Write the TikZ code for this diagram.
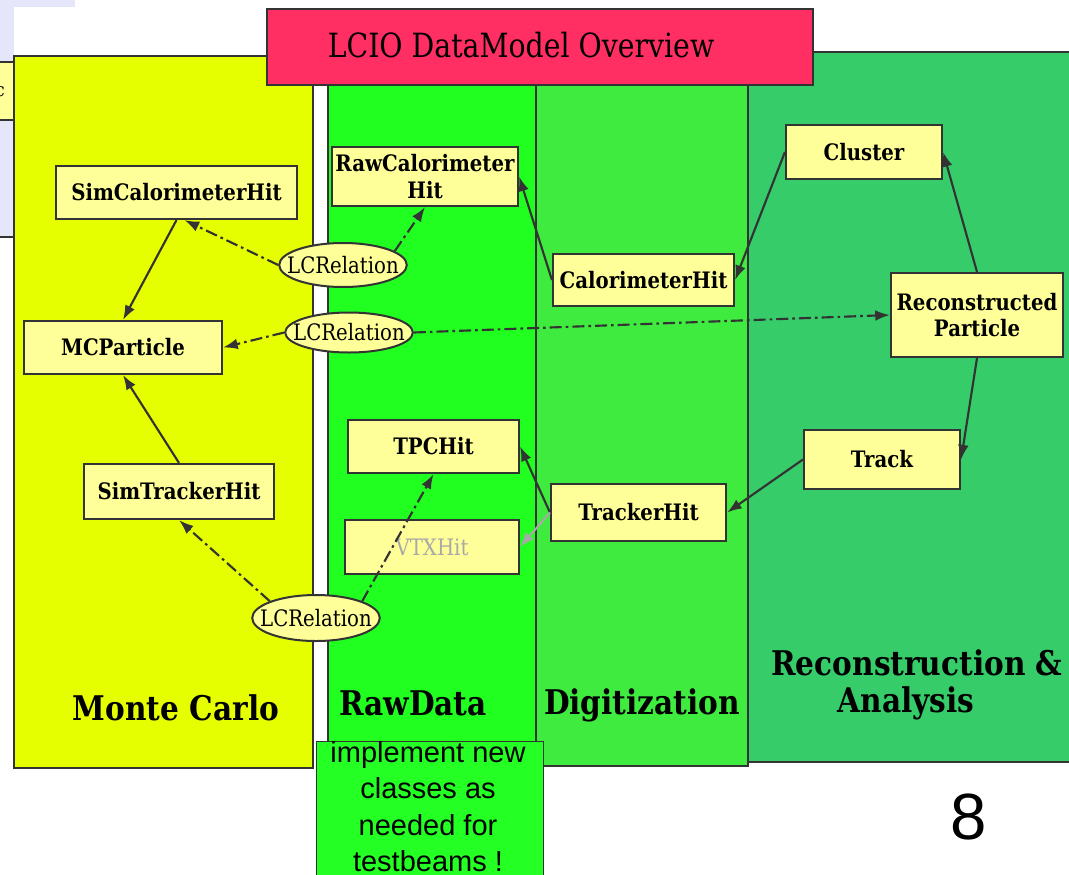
\documentclass[tikz,border=0pt]{standalone}
\usepackage{fontspec}
\newfontfamily\dvserif{DejaVu Serif}[FakeStretch=0.87]
\newfontfamily\dvtitle{DejaVu Serif}[FakeStretch=0.85]
\newfontfamily\lsans{Liberation Sans}
\usetikzlibrary{arrows.meta,shapes.geometric}
\definecolor{bordc}{HTML}{333333}
\definecolor{mcyellow}{HTML}{E5FF00}
\definecolor{rawgreen}{HTML}{20FF20}
\definecolor{digigreen}{HTML}{3EEB3E}
\definecolor{recogreen}{HTML}{36CC6A}
\definecolor{titlered}{HTML}{FF2E63}
\definecolor{nodefill}{HTML}{FFFF99}
\definecolor{lavend}{HTML}{E6E6FA}
\definecolor{notegreen}{HTML}{24FF24}
\definecolor{vtxgray}{HTML}{A8A8A8}
\begin{document}
\begin{tikzpicture}[x=0.75pt,y=-0.75pt,
  panel/.style={draw=bordc, line width=1.5pt},
  cls/.style={draw=bordc, fill=nodefill, line width=1.6pt, inner sep=0pt, align=center,
    font=\dvserif\bfseries\fontsize{17}{20}\selectfont},
  rel/.style={ellipse, draw=bordc, fill=nodefill, line width=1.5pt, inner ysep=0pt, inner xsep=-8pt,
    font=\dvserif\fontsize{17}{20}\selectfont},
  plabel/.style={inner sep=0pt, font=\dvserif\bfseries\fontsize{25.5}{30}\selectfont},
  arr/.style={draw=bordc, line width=1.6pt, -{Latex[length=11pt,width=8pt]}},
  rarr/.style={arr, dash pattern=on 9pt off 3pt on 2pt off 3pt},
  garr/.style={draw=vtxgray, line width=1.6pt, -{Latex[length=11pt,width=8pt]}}
]
\useasboundingbox (0,0) rectangle (1069,874);
% background slide fragments
\fill[lavend] (0,0) rectangle (75,7);
\fill[lavend] (0,0) rectangle (14,237);
\draw[bordc, line width=1pt] (0,237) -- (14,237);
\draw[fill=nodefill, draw=bordc, line width=1pt] (-5,62) rectangle (14,120);
\node[anchor=east, inner sep=0pt, font=\dvserif\fontsize{14}{16}\selectfont] (cfrag) at (5,92) {c};

% panels
\draw[panel, fill=recogreen] (748,52) rectangle (1080,762);
\draw[panel, fill=digigreen] (536,60) rectangle (748,766);
\draw[panel, fill=rawgreen] (328,60) rectangle (536,766);
\draw[panel, fill=mcyellow] (14,56) rectangle (313,768);

% title
\node[draw=bordc, fill=titlered, line width=1.5pt, minimum width=546*0.75pt, minimum height=76*0.75pt,
  inner sep=0pt] (title) at (540,47) {};
\node[inner sep=0pt, font=\dvtitle\fontsize{25}{29}\selectfont] (titletext) at (521,45) {LCIO DataModel Overview};

% panel labels
\node[plabel] (lmc) at (176,708) {Monte Carlo};
\node[plabel] (lraw) at (413,703) {RawData};
\node[plabel] (ldig) at (642,705) {Digitization};
\node[plabel] (lreco1) at (917,663) {Reconstruction \&};
\node[plabel] (lreco2) at (906,703) {Analysis};

% class nodes
\node[cls, minimum width=241*0.75pt, minimum height=53*0.75pt] (simcal) at (176.5,192.5) {SimCalorimeterHit};
\node[cls, minimum width=198*0.75pt, minimum height=53*0.75pt] (mcp) at (123,347.5) {MCParticle};
\node[cls, minimum width=190*0.75pt, minimum height=55*0.75pt] (simtrk) at (179,491.5) {SimTrackerHit};
\node[cls, minimum width=186*0.75pt, minimum height=59*0.75pt] (rawcal) at (425,176.5) {RawCalorimeter\\Hit};
\node[cls, minimum width=171*0.75pt, minimum height=53*0.75pt] (tpc) at (433.5,446.5) {TPCHit};
\node[cls, minimum width=174*0.75pt, minimum height=54*0.75pt, font=\dvserif\fontsize{17}{20}\selectfont, text=vtxgray] (vtx) at (432,547) {VTXHit};
\node[cls, minimum width=181*0.75pt, minimum height=52*0.75pt] (calo) at (643.5,280) {CalorimeterHit};
\node[cls, minimum width=175*0.75pt, minimum height=57*0.75pt] (trk) at (638.5,512.5) {TrackerHit};
\node[cls, minimum width=156*0.75pt, minimum height=54*0.75pt] (cluster) at (864,152) {Cluster};
\node[cls, minimum width=172*0.75pt, minimum height=84*0.75pt] (reco) at (977,315) {Reconstructed\\Particle};
\node[cls, minimum width=156*0.75pt, minimum height=59*0.75pt] (track) at (882,459.5) {Track};

% relation ellipses
\node[rel, minimum width=124*0.75pt, minimum height=44*0.75pt] (lcr1) at (343,265) {LCRelation};
\node[rel, minimum width=124*0.75pt, minimum height=40*0.75pt] (lcr2) at (349,332.5) {LCRelation};
\node[rel, minimum width=126*0.75pt, minimum height=46*0.75pt] (lcr3) at (316,618) {LCRelation};

% solid connectors
\draw[arr] (simcal.south) -- (mcp.north);
\draw[arr] (simtrk.north) -- (mcp.south);
\draw[arr] (calo.west) -- (rawcal.east);
\draw[arr] (cluster.west) -- (calo.east);
\draw[arr] (reco.north) -- (cluster.east);
\draw[arr] (reco.south) -- (track.east);
\draw[arr] (track.west) -- (trk.east);
\draw[arr] (trk.west) -- (tpc.east);
\draw[garr] (trk.west) -- (vtx.east);

% relation connectors
\draw[rarr] (lcr1.west) -- ([xshift=6pt]simcal.south);
\draw[rarr] (lcr1.15) -- (rawcal.south);
\draw[rarr] (lcr2.west) -- (mcp.east);
\draw[rarr] (lcr2.east) -- (reco.west);
\draw[rarr] (lcr3.160) -- (simtrk.south);
\draw[rarr] (lcr3.20) -- (tpc.south);

% note
\node[draw=bordc, fill=notegreen, line width=1pt, minimum width=227*0.75pt, minimum height=140*0.75pt,
  anchor=north west, inner sep=0pt] (notebox) at (316,741) {};
\node[anchor=north, align=center, inner sep=0pt, font=\lsans\fontsize{21.75}{27.4}\selectfont] (notetext) at (428,741)
  {implement new\\classes as\\needed for\\testbeams !};

% page number
\node[inner sep=0pt, font=\lsans\fontsize{49}{55}\selectfont] (pagenum) at (969,817) {8};
\end{tikzpicture}
\end{document}
